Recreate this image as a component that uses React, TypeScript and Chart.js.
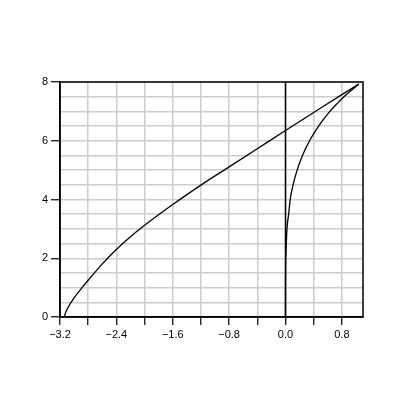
import React, { useEffect, useRef } from "react";
import { Chart, registerables } from "chart.js";

Chart.register(...registerables);

const curve1X = [-3.14, -3.12, -3.08, -3.0, -2.9, -2.8, -2.6, -2.4, -2.2, -2.0, -1.6, -1.2, -0.8, -0.4, 0, 0.4, 0.8, 1.04];
const curve1Y = [0, 0.15, 0.35, 0.65, 0.96, 1.25, 1.81, 2.3, 2.73, 3.12, 3.83, 4.49, 5.11, 5.73, 6.35, 6.96, 7.57, 7.93];

const curve2X = [0, 0.0003, 0.004, 0.021, 0.045, 0.067, 0.108, 0.165, 0.241, 0.341, 0.47, 0.63, 0.727, 0.83, 1.04];
const curve2Y = [0, 1, 2, 3, 3.5, 4, 4.5, 5, 5.5, 6, 6.5, 7, 7.25, 7.5, 7.93];

const vlineX = [0, 0];
const vlineY = [0, 8];

const xTickValues = [-3.2, -2.8, -2.4, -2.0, -1.6, -1.2, -0.8, -0.4, 0.0, 0.4, 0.8];
const xLabels = [-3.2, -2.4, -1.6, -0.8, 0.0, 0.8];
const yTickValues = [0, 0.5, 1, 1.5, 2, 2.5, 3, 3.5, 4, 4.5, 5, 5.5, 6, 6.5, 7, 7.5, 8];
const yLabels = [0, 2, 4, 6, 8];

const FONT = "'Liberation Sans', Arial, Helvetica, sans-serif";

function pts(xs: number[], ys: number[]) {
  return xs.map((x, i) => ({ x, y: ys[i] }));
}

const near = (a: number, list: number[]) => list.some((v) => Math.abs(v - a) < 1e-6);

const framePlugin = {
  id: "frame",
  afterDatasetsDraw(chart: any) {
    const { ctx, chartArea } = chart;
    ctx.save();
    ctx.strokeStyle = "#000";
    ctx.lineWidth = 1.5;
    ctx.strokeRect(chartArea.left, chartArea.top, chartArea.right - chartArea.left, chartArea.bottom - chartArea.top);
    ctx.restore();
  },
};

export default function App() {
  const ref = useRef<HTMLCanvasElement>(null);
  useEffect(() => {
    if (!ref.current) return;
    const lineStyle = {
      showLine: true,
      pointRadius: 0,
      borderColor: "#000",
      backgroundColor: "#000",
      fill: false,
    };
    const chart = new Chart(ref.current, {
      type: "scatter",
      data: {
        datasets: [
          { ...lineStyle, data: pts(curve1X, curve1Y), borderWidth: 1.3, cubicInterpolationMode: "monotone" },
          { ...lineStyle, data: pts(curve2X, curve2Y), borderWidth: 1.3, cubicInterpolationMode: "monotone" },
          { ...lineStyle, data: pts(vlineX, vlineY), borderWidth: 1.5 },
        ],
      },
      options: {
        animation: false,
        responsive: false,
        maintainAspectRatio: false,
        layout: { padding: { left: 0, right: 52, top: 82, bottom: 68 } },
        plugins: { legend: { display: false }, tooltip: { enabled: false } },
        scales: {
          x: {
            type: "linear",
            min: -3.2,
            max: 1.1,
            afterFit: (s: any) => {
              s.height = 30;
            },
            afterBuildTicks: (s: any) => {
              s.ticks = xTickValues.map((v) => ({ value: v }));
            },
            border: { display: true, color: "#000", width: 1.5 },
            grid: {
              color: "#cccccc",
              lineWidth: 1.5,
              tickLength: 8,
              tickWidth: 1.2,
              tickColor: "#000",
            },
            ticks: {
              color: "#000",
              padding: 3,
              maxRotation: 0,
              autoSkip: false,
              font: { family: FONT, size: 11 },
              callback: (v: any) => {
                const n = Number(v);
                if (!near(n, xLabels)) return "";
                const s = Math.abs(n).toFixed(1);
                return n < -1e-9 ? "\u2212" + s : s;
              },
            },
          },
          y: {
            type: "linear",
            min: 0,
            max: 8,
            afterFit: (s: any) => {
              s.width = 60;
            },
            afterBuildTicks: (s: any) => {
              s.ticks = yTickValues.map((v) => ({ value: v }));
            },
            border: { display: true, color: "#000", width: 1.5 },
            grid: {
              color: "#cccccc",
              lineWidth: 1.5,
              tickLength: 9,
              tickWidth: 1.2,
              tickColor: (c: any) => {
                const v = c.tick ? c.tick.value : 0;
                return near(v, yLabels) ? "#000" : "rgba(0,0,0,0)";
              },
            },
            ticks: {
              color: "#000",
              padding: 3,
              autoSkip: false,
              font: { family: FONT, size: 11 },
              callback: (v: any) => {
                const n = Number(v);
                return near(n, yLabels) ? String(n) : "";
              },
            },
          },
        },
      },
      plugins: [framePlugin],
    });
    return () => chart.destroy();
  }, []);
  return (
    <div style={{ position: "fixed", left: 0, top: 0, width: 415, height: 415, background: "#fff" }}>
      <canvas ref={ref} width={415} height={415} style={{ display: "block", width: 415, height: 415 }} />
    </div>
  );
}
